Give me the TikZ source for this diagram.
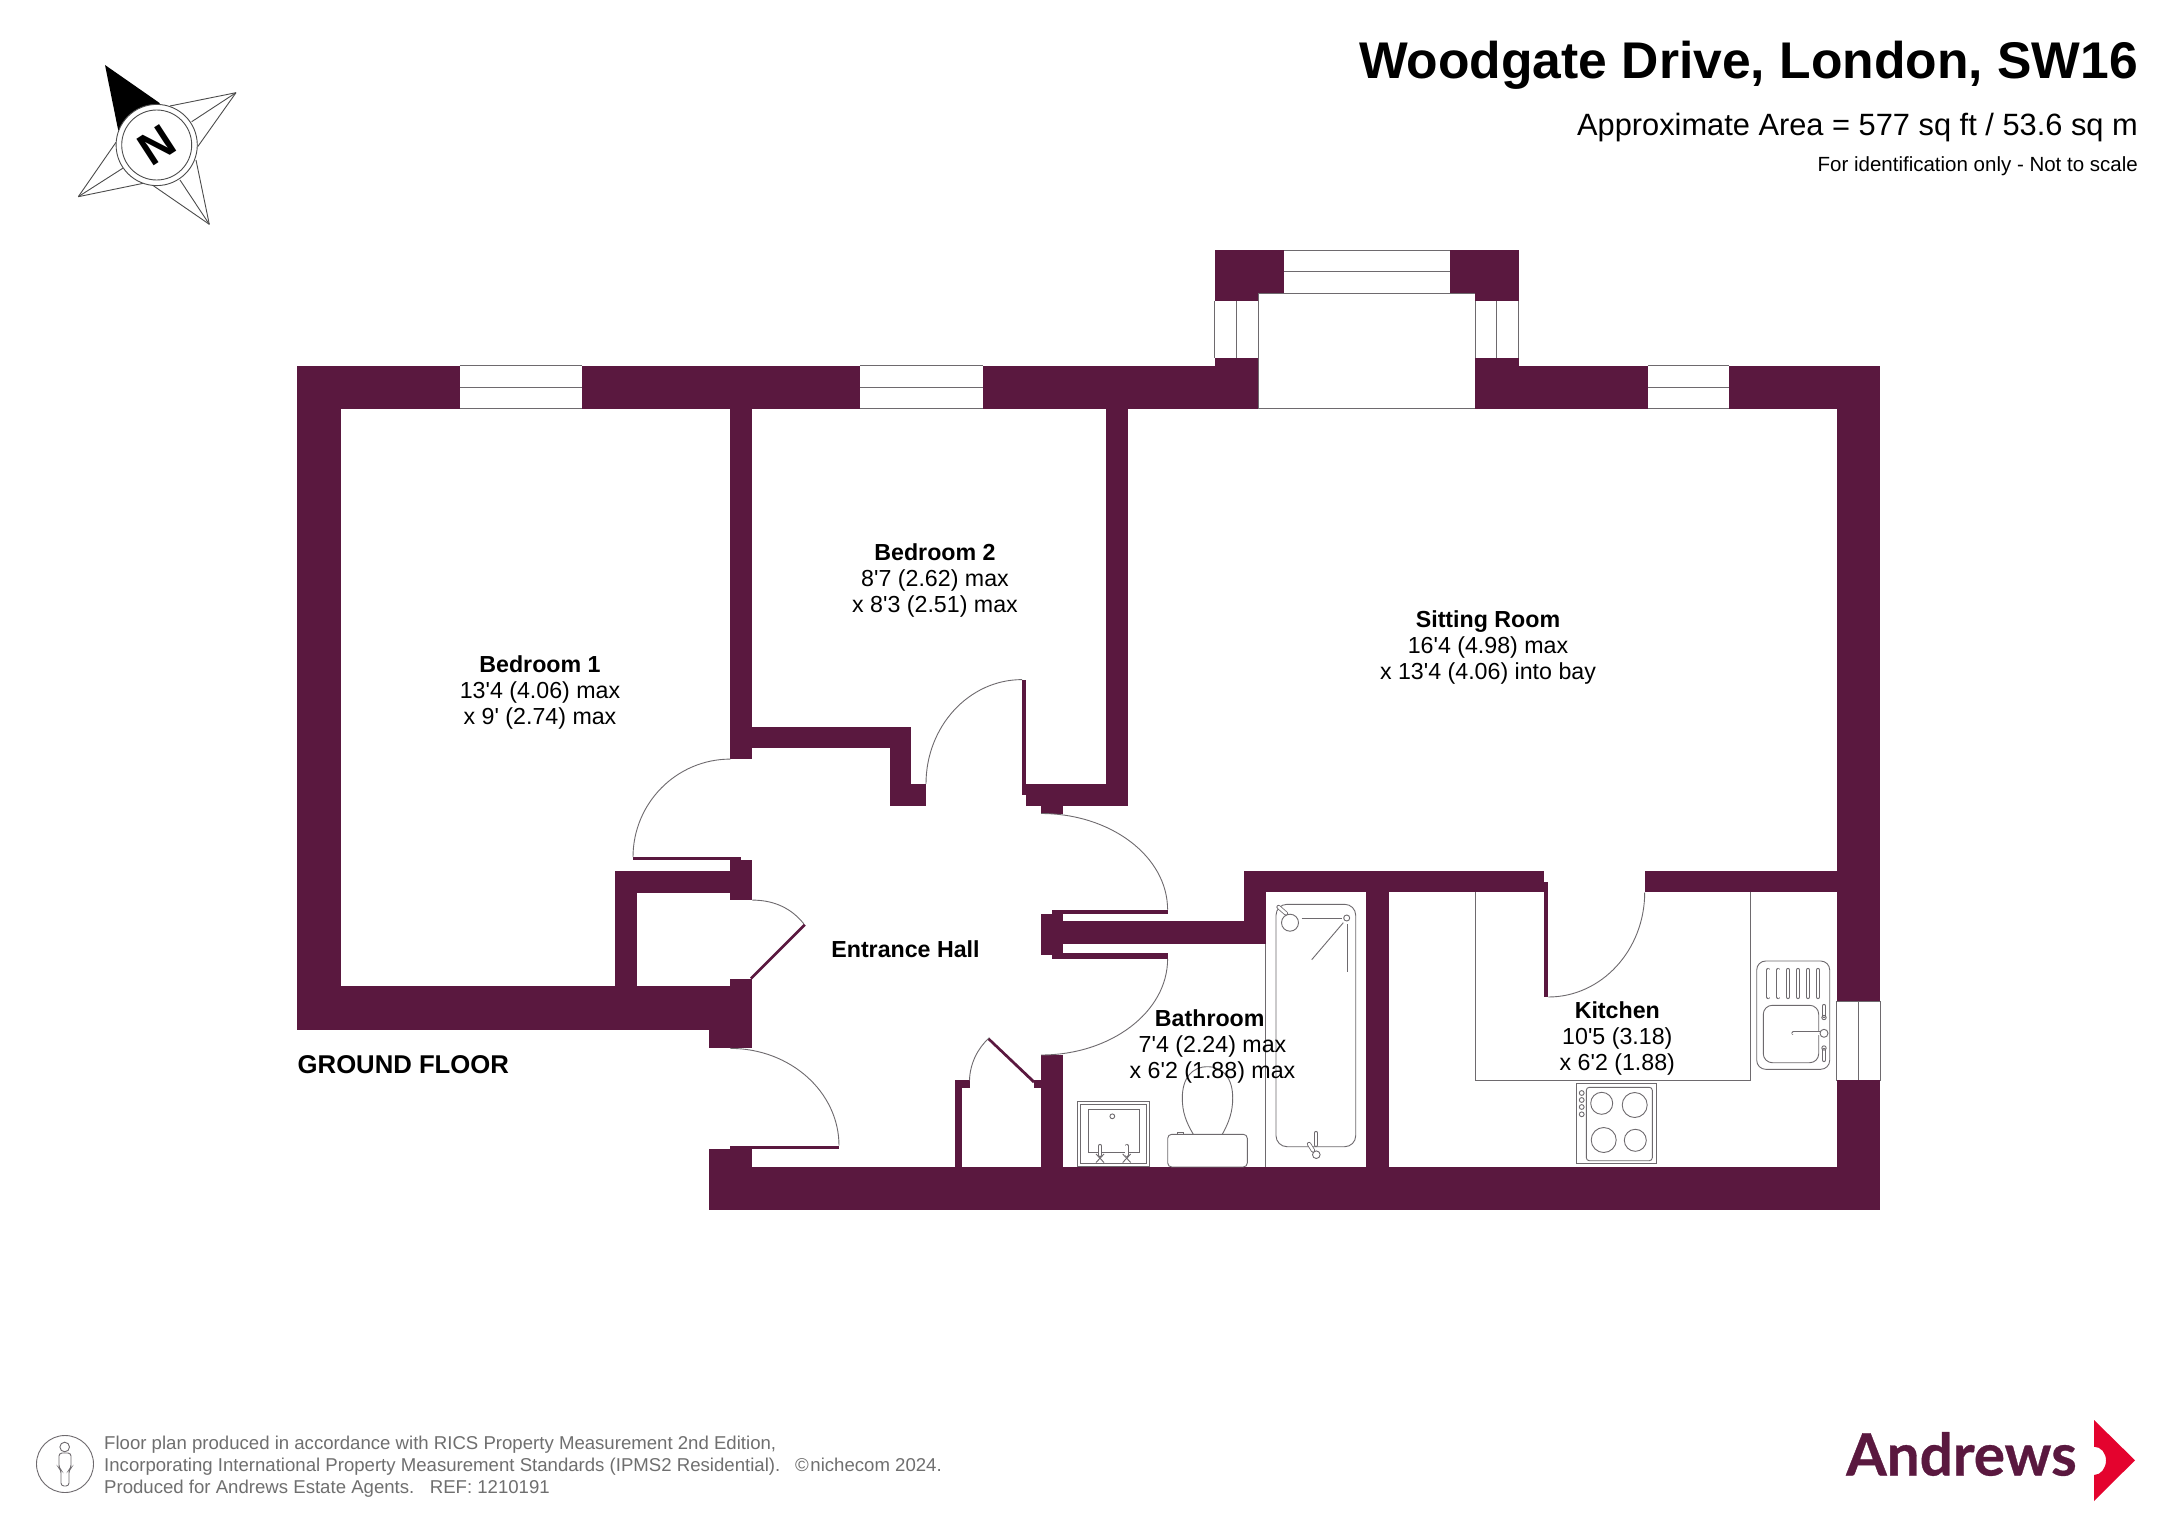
\documentclass[tikz,border=0pt]{standalone}
\usepackage{fontspec}
\setmainfont{Liberation Sans}
\newfontfamily\planfont{Liberation Sans}
\newfontfamily\logofont{Lato}[BoldFeatures={FakeBold=0.6}]
\definecolor{wallcol}{HTML}{5A183F}
\definecolor{linecol}{HTML}{6E6A6E}
\definecolor{footcol}{HTML}{6F6F6F}
\definecolor{logored}{HTML}{E4032E}
\tikzset{
  wall/.style={fill=wallcol},
  winline/.style={draw=linecol, line width=1pt},
  swing/.style={draw=linecol, line width=.9pt},
  fixture/.style={draw=linecol, line width=.9pt},
  pipe/.style={draw=linecol, line width=.8pt, double=white, double distance=2.6pt, line cap=round},
  roomlabel/.style={align=center, inner sep=0pt, font=\planfont\fontsize{23.2}{26}\selectfont},
}
\begin{document}
\begin{tikzpicture}[x=1pt, y=-1pt]
\useasboundingbox (0,0) rectangle (2172,1536);
\fill[white] (0,0) rectangle (2172,1536);

\draw[winline] (459.8,365.5) -- (581.7,365.5);
\draw[winline] (459.8,387) -- (581.7,387);
\draw[winline] (459.8,408.7) -- (581.7,408.7);
\draw[winline] (860,365.5) -- (983.3,365.5);
\draw[winline] (860,387) -- (983.3,387);
\draw[winline] (860,408.7) -- (983.3,408.7);
\draw[winline] (1648,365.5) -- (1728.5,365.5);
\draw[winline] (1648,387) -- (1728.5,387);
\draw[winline] (1648,408.7) -- (1728.5,408.7);
\draw[winline] (1283.7,250) -- (1449.7,250);
\draw[winline] (1283.7,271.3) -- (1449.7,271.3);
\draw[winline] (1258,293.3) rectangle (1475,408.7);
\draw[winline] (1214.7,301) -- (1214.7,358.3);
\draw[winline] (1236.7,301) -- (1236.7,358.3);
\draw[winline] (1496.7,301) -- (1496.7,358.3);
\draw[winline] (1518.7,301) -- (1518.7,358.3);
\draw[winline] (1836.7,1001) rectangle (1880,1080);
\draw[winline] (1858.7,1001) -- (1858.7,1080);

\fill[wall] (296.5,365.5) rectangle (459.8,408.7);
\fill[wall] (581.7,365.5) rectangle (860,408.7);
\fill[wall] (983.3,365.5) rectangle (1258,408.7);
\fill[wall] (1214.7,358.3) rectangle (1258,365.5);
\fill[wall] (1475,358.3) rectangle (1518.7,408.7);
\fill[wall] (1518.7,365.5) rectangle (1648,408.7);
\fill[wall] (1728.5,365.5) rectangle (1880,408.7);
\fill[wall] (1214.7,250) rectangle (1283.7,293.3);
\fill[wall] (1214.7,293.3) rectangle (1258,301);
\fill[wall] (1449.7,250) rectangle (1518.7,293.3);
\fill[wall] (1475,293.3) rectangle (1518.7,301);
\fill[wall] (296.5,365.5) rectangle (341,1030);
\fill[wall] (1836.7,365.5) rectangle (1880,1001);
\fill[wall] (1836.7,1080) rectangle (1880,1210);
\fill[wall] (708.5,1166.7) rectangle (1880,1210);

\fill[wall] (296.5,986.3) rectangle (752.4,1030);
\fill[wall] (730.3,978.5) rectangle (752.4,1048.4);
\fill[wall] (708.5,1030) rectangle (752.4,1048.4);
\fill[wall] (708.5,1148.7) rectangle (752.4,1166.7);
\fill[wall] (730.3,1145.7) rectangle (839,1148.7);

\fill[wall] (730.3,408.7) rectangle (752.4,759.1);
\fill[wall] (752.4,726.6) rectangle (911.4,748.4);
\fill[wall] (889.6,748.4) rectangle (911.4,806.1);
\fill[wall] (911.4,783.9) rectangle (926,806.1);
\fill[wall] (1106.3,408.7) rectangle (1128.4,806.1);
\fill[wall] (1022,679.6) rectangle (1026.4,795.4);
\fill[wall] (1026.4,783.9) rectangle (1128.4,806.1);
\fill[wall] (1041,806.1) rectangle (1063,813.5);

\fill[wall] (633,857.2) rectangle (741.3,860.1);
\fill[wall] (730.3,860.1) rectangle (752.4,900.1);
\fill[wall] (614.8,870.9) rectangle (730.3,893.1);
\fill[wall] (614.8,893.1) rectangle (636.5,986.3);

\fill[wall] (1041,913.8) rectangle (1052,955.2);
\fill[wall] (1052,909.7) rectangle (1063,958.9);
\fill[wall] (1063,909.7) rectangle (1167.6,913.8);
\fill[wall] (1063,953.4) rectangle (1167.6,958.9);
\fill[wall] (1063,921.2) rectangle (1265.7,943.5);
\fill[wall] (1243.7,870.7) rectangle (1265.7,921.2);
\fill[wall] (1243.7,870.7) rectangle (1544,892.3);
\fill[wall] (1544,881.7) rectangle (1548.3,892.3);
\fill[wall] (1544,892.3) rectangle (1548.3,997);
\fill[wall] (1644.7,871.3) rectangle (1836.7,892.3);
\fill[wall] (1366,892.3) rectangle (1388.7,1166.7);
\fill[wall] (1041,1055) rectangle (1063,1166.7);
\fill[wall] (1034,1080.3) rectangle (1041,1087.6);
\fill[wall] (954.5,1080.3) rectangle (969.5,1087.6);
\fill[wall] (954.5,1087.6) rectangle (962.4,1166.7);
\fill[wall] (803.8,923.8) -- (805.8,925.6) -- (751.8,979.5) -- (750,977.5) -- cycle;
\fill[wall] (989.3,1037.7) -- (987.5,1039.6) -- (1033,1083) -- (1035,1081) -- cycle;

\draw[swing] (730.3,759.1) .. controls (676.6,759.1) and (633,803) .. (633,857.2);
\draw[swing] (926,783.9) .. controls (926,726.3) and (969,679.6) .. (1022,679.6);
\draw[swing] (1041,813.5) .. controls (1110.9,813.5) and (1167.6,856.6) .. (1167.6,909.7);
\draw[swing] (1167.6,958.9) .. controls (1167.6,1012) and (1110.9,1055) .. (1041,1055);
\draw[swing] (730.3,1048.4) .. controls (790.3,1048.4) and (839,1092) .. (839,1145.7);
\draw[swing] (752.4,900.1) .. controls (775,900.1) and (792,909) .. (803.8,923.8);
\draw[swing] (989.3,1037.7) .. controls (978,1048) and (970,1063) .. (969.5,1080.3);
\draw[swing] (1548.3,997) .. controls (1601.5,997) and (1644.7,950.1) .. (1644.7,892.3);

\draw[winline] (1475.3,892.3) -- (1475.3,1080) -- (1750.3,1080) -- (1750.3,892.3);
\draw[winline] (1265.7,943.5) -- (1265.7,1166.7);

\draw[fixture, rounded corners=9pt] (1756.7,961) rectangle (1829.7,1069.3);
\draw[fixture, rounded corners=9pt] (1763.3,1005.3) rectangle (1818.7,1062.7);
\draw[pipe] (1768.3,970) -- (1768.3,997);
\draw[pipe] (1778.3,970) -- (1778.3,997);
\draw[pipe] (1788,970) -- (1788,997);
\draw[pipe] (1798,970) -- (1798,997);
\draw[pipe] (1808,970) -- (1808,997);
\draw[pipe] (1818,970) -- (1818,997);
\draw[pipe] (1793.5,1033.3) -- (1820,1033.3);
\draw[fixture, fill=white] (1824,1033.3) circle (4pt);
\draw[pipe] (1824,1006) -- (1824,1016);
\draw[fixture] (1824,1017.5) circle (2.2pt);
\draw[pipe] (1824,1050) -- (1824,1060);
\draw[fixture] (1824,1048) circle (2.2pt);

\draw[fixture] (1576.3,1083.3) rectangle (1656.3,1163.3);
\draw[fixture, rounded corners=3pt] (1586.3,1087.3) rectangle (1652.3,1160.7);
\draw[fixture] (1601.7,1103.3) circle (11pt);
\draw[fixture] (1634.7,1105) circle (12.5pt);
\draw[fixture] (1603.7,1140) circle (12.5pt);
\draw[fixture] (1635.3,1140.3) circle (11pt);
\draw[fixture] (1581.7,1093) circle (2.4pt);
\draw[fixture] (1581.7,1100) circle (2.4pt);
\draw[fixture] (1581.7,1107) circle (2.4pt);
\draw[fixture] (1581.7,1114.3) circle (2.4pt);

\draw[fixture, rounded corners=11pt] (1276,904.3) rectangle (1355.7,1146.7);
\draw[fixture, fill=white] (1290,922.7) circle (8.5pt);
\draw[pipe] (1278.5,907) -- (1286,913.5);
\draw[fixture] (1301.7,918.3) -- (1341.7,918.3);
\draw[fixture] (1346.7,918) circle (3pt);
\draw[fixture] (1343.3,922.7) -- (1311.7,959.7);
\draw[fixture] (1347,924) -- (1347,971.7);
\draw[pipe] (1316,1133) -- (1316,1145);
\draw[fixture, fill=white] (1316.3,1154.7) circle (3.8pt);
\draw[pipe] (1309,1144) -- (1313,1150.5);

\draw[fixture, rounded corners=4pt] (1167.7,1134.3) rectangle (1247.3,1167);
\draw[fixture] (1193.3,1134.3) .. controls (1186,1122) and (1182.3,1112) .. (1182.3,1098) .. controls (1182.3,1078) and (1192,1066.7) .. (1207.5,1066.7) .. controls (1223,1066.7) and (1232.7,1078) .. (1232.7,1098) .. controls (1232.7,1112) and (1229,1122) .. (1222.3,1134.3);
\draw[fixture] (1177,1134.3) -- (1177,1132.5) -- (1183,1132.5) -- (1183,1134.3);

\draw[fixture] (1077.3,1101.7) rectangle (1149.7,1166.7);
\draw[fixture] (1080.7,1104.7) rectangle (1146,1163.3);
\draw[fixture] (1088.3,1109) rectangle (1139.3,1152.7);
\draw[fixture] (1112.3,1116.3) circle (2.4pt);
\draw[pipe] (1100,1146) -- (1100,1155);
\draw[fixture] (1096,1154) -- (1104,1162.5);
\draw[fixture] (1104,1154) -- (1096,1162.5);
\draw[pipe] (1126.7,1146) -- (1126.7,1155);
\draw[fixture] (1122.7,1154) -- (1130.7,1162.5);
\draw[fixture] (1130.7,1154) -- (1122.7,1162.5);

\node[roomlabel] (bedone) at (540,692.5) {\textbf{Bedroom 1}\\13'4 (4.06) max\\x 9' (2.74) max};
\node[roomlabel] (bedtwo) at (935,580.5) {\textbf{Bedroom 2}\\8'7 (2.62) max\\x 8'3 (2.51) max};
\node[roomlabel] (sitting) at (1488,647) {\textbf{Sitting Room}\\16'4 (4.98) max\\x 13'4 (4.06) into bay};
\node[roomlabel] (hall) at (905.5,949.5) {\textbf{Entrance Hall}};
\node[roomlabel] (bathroom) at (1212.5,1046.5) {\textbf{Bathroom}\hspace*{5.5pt}\\7'4 (2.24) max\\x 6'2 (1.88) max};
\node[roomlabel] (kitchen) at (1617.3,1038.5) {\textbf{Kitchen}\\10'5 (3.18)\\x 6'2 (1.88)};
\node[inner sep=0pt, anchor=west, font=\fontsize{25.7}{26}\selectfont\bfseries] (floor) at (297.5,1064.5) {GROUND FLOOR};

\node[inner sep=0pt, anchor=east, font=\fontsize{51.6}{52}\selectfont\bfseries] (title) at (2138,65) {Woodgate Drive, London, SW16};
\node[inner sep=0pt, anchor=east, font=\fontsize{30.8}{31}\selectfont] (area) at (2138,127.5) {Approximate Area = 577 sq ft / 53.6 sq m};
\node[inner sep=0pt, anchor=east, font=\fontsize{20.5}{21}\selectfont] (idnote) at (2138,166) {For identification only - Not to scale};

\fill[black] (105,65) -- (160,103.3) -- (118.3,130.7) -- cycle;
\draw[fixture, black!70] (236,92.7) -- (170,106);
\draw[fixture, black!70] (236,92.7) -- (191.7,121.7);
\draw[fixture, black!70] (236,92.7) -- (197.7,146.7);
\draw[fixture, black!70] (209.3,224.3) -- (196,160);
\draw[fixture, black!70] (209.3,224.3) -- (180,180);
\draw[fixture, black!70] (209.3,224.3) -- (153.3,185.7);
\draw[fixture, black!70] (78.3,196.7) -- (143.3,183.3);
\draw[fixture, black!70] (78.3,196.7) -- (122.7,168.3);
\draw[fixture, black!70] (78.3,196.7) -- (116,142.3);
\draw[fixture, black!70, fill=white] (156.7,145) circle (40.6pt);
\draw[fixture, black!70] (156.7,145) circle (35pt);
\node[inner sep=0pt, rotate=33, font=\fontsize{46}{46}\selectfont\bfseries] (north) at (156.7,145) {N};

\draw[fixture] (65,1464) circle (28.5pt);
\draw[fixture] (64.7,1447) circle (4.8pt);
\draw[fixture, rounded corners=3pt] (59,1468) -- (59,1453) -- (71,1453) -- (71,1468) -- (69,1470) -- (69,1486) -- (61,1486) -- (61,1470) -- cycle;
\node[inner sep=0pt, anchor=north west, align=left, text=footcol, font=\fontsize{18.6}{22}\selectfont] (footer) at (104,1435.5) {Floor plan produced in accordance with RICS Property Measurement 2nd Edition,\\Incorporating International Property Measurement Standards (IPMS2 Residential).\hspace{15pt}©\hspace{1.5pt}nichecom 2024.\\Produced for Andrews Estate Agents.\hspace{15.5pt}REF: 1210191};

\node[inner sep=0pt, anchor=base west, text=wallcol, font=\fontsize{58.4}{58}\selectfont\logofont\bfseries] (logo) at (1846,1475.5) {Andrews};
\fill[logored] (2094,1420) -- (2135,1460.3) -- (2094,1501) -- (2094,1475) .. controls (2101,1475) and (2106,1468) .. (2106,1460.5) .. controls (2106,1453) and (2101,1446.7) .. (2094,1446.7) -- cycle;
\end{tikzpicture}
\end{document}
